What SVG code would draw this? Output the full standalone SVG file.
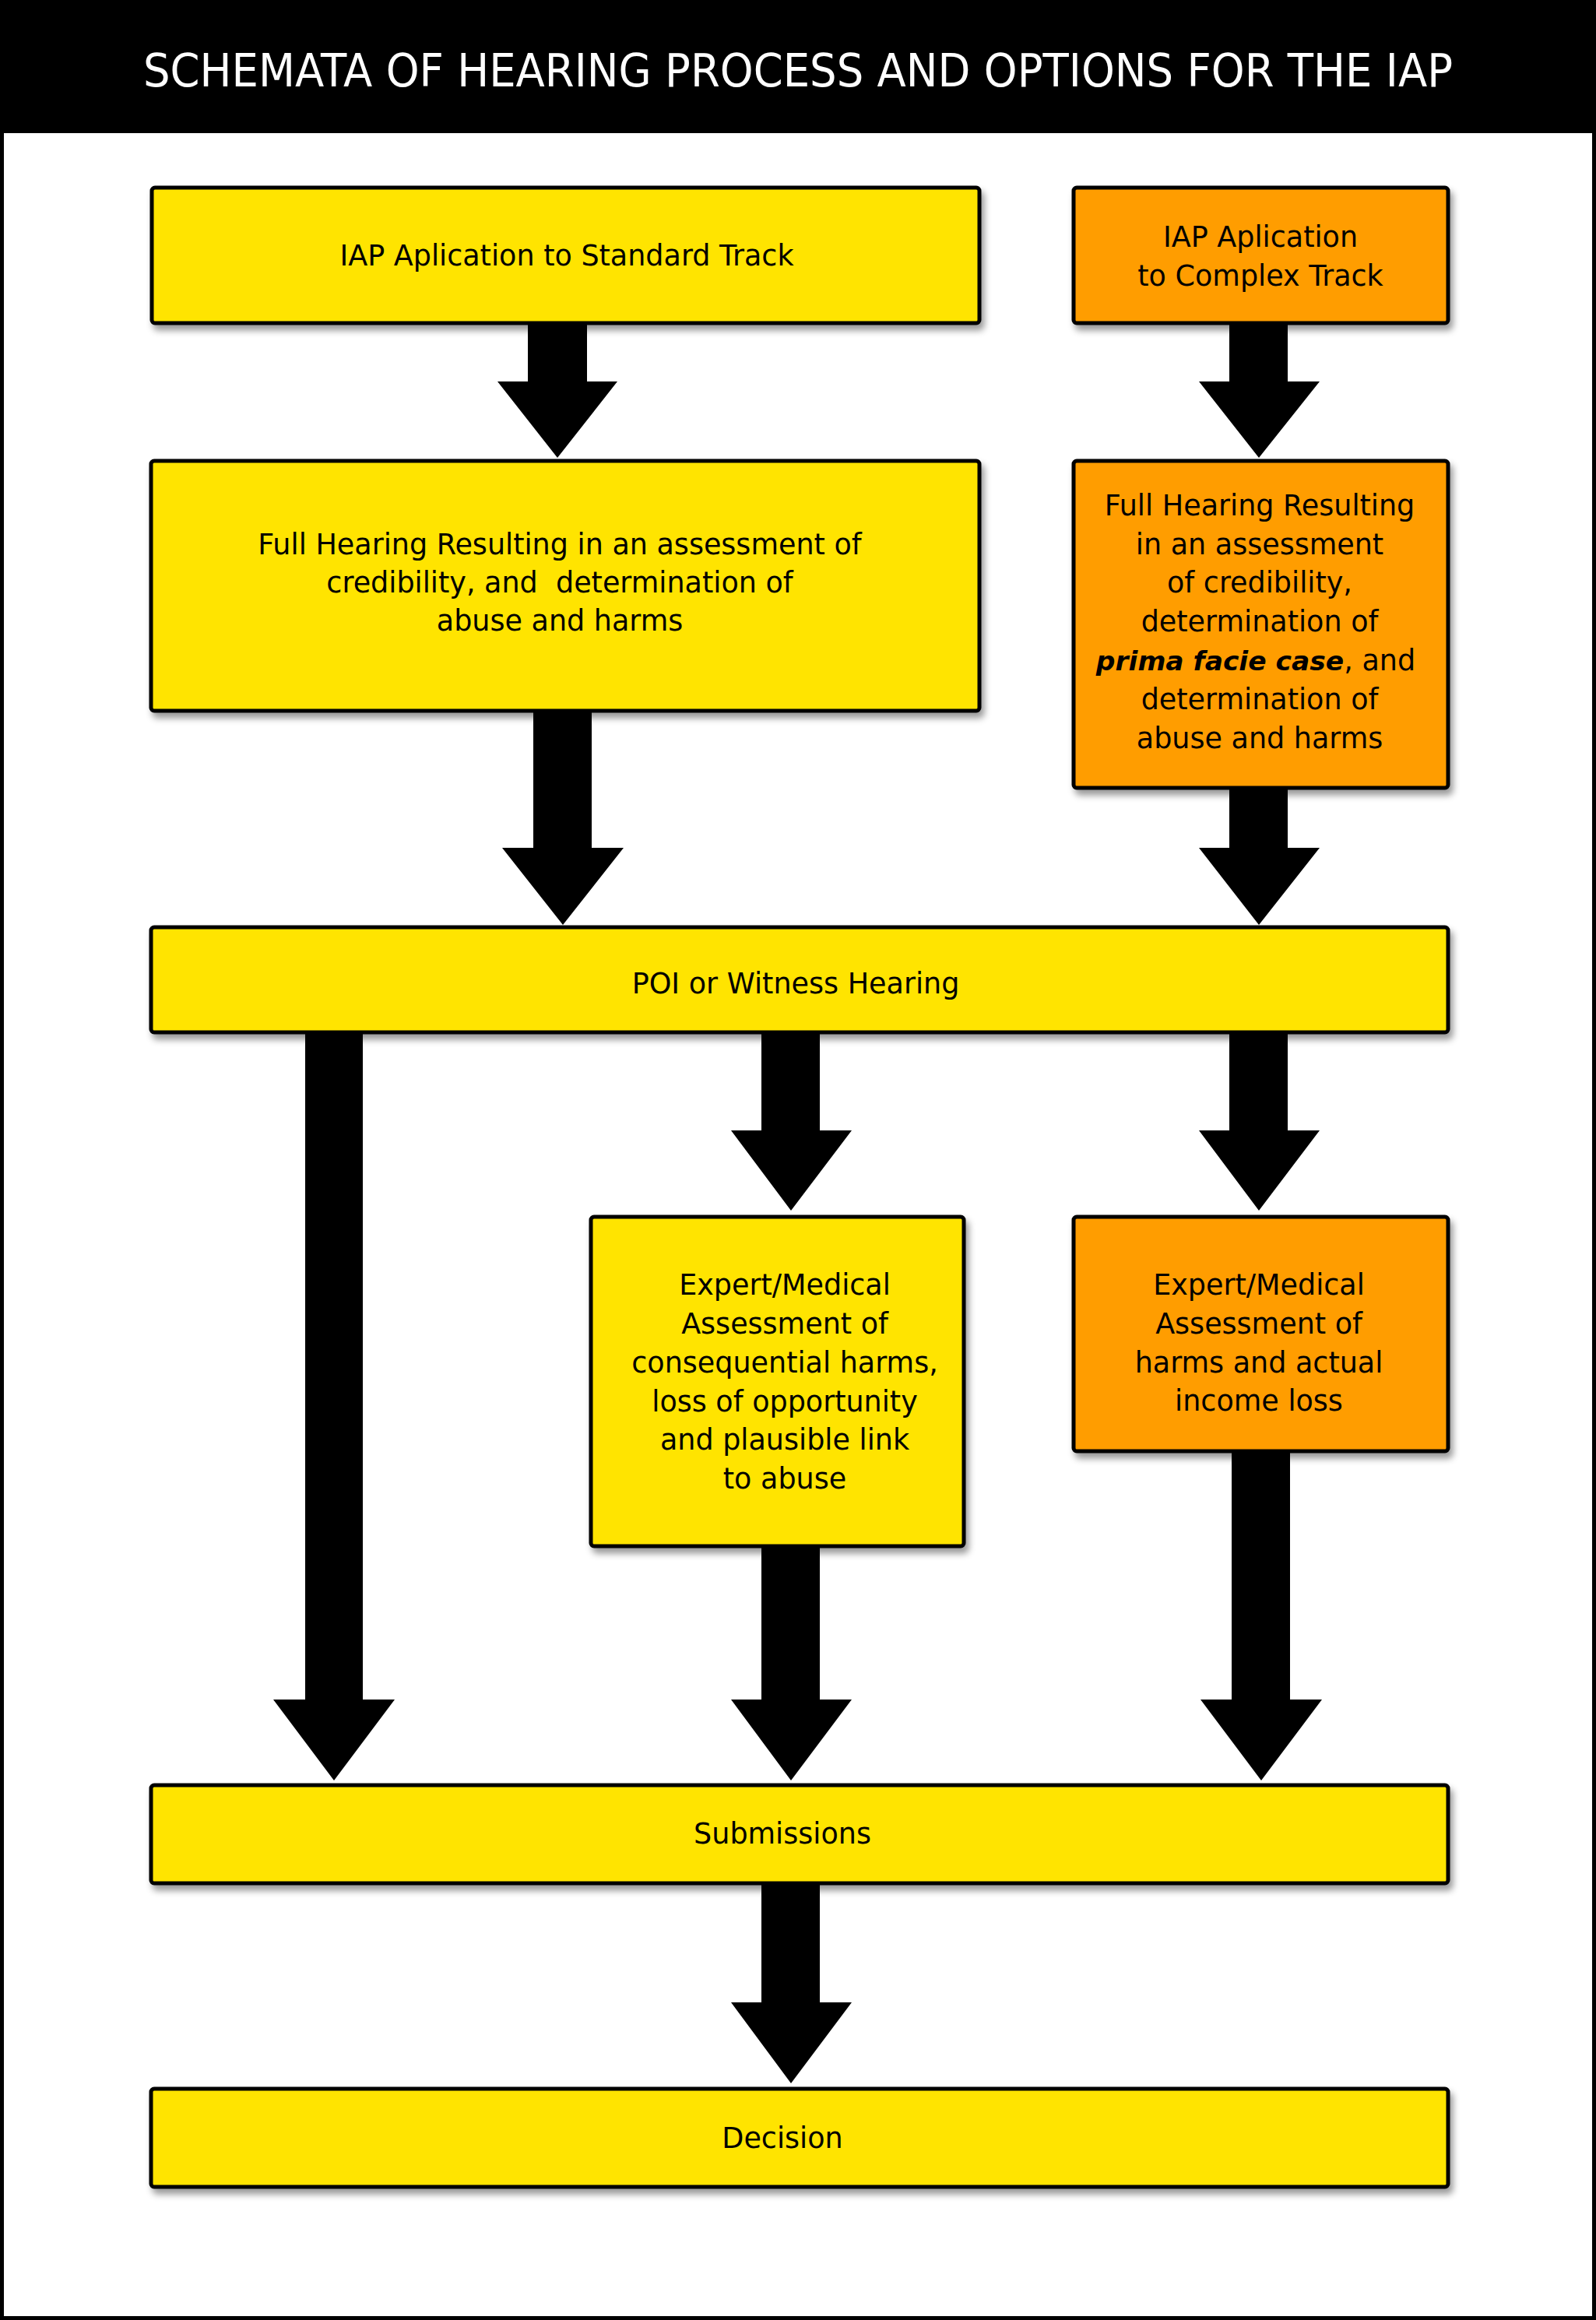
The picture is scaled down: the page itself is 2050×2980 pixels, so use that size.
<svg xmlns="http://www.w3.org/2000/svg" width="2050" height="2980" viewBox="0 0 2050 2980">
<defs>
<filter id="shadow" x="-5%" y="-5%" width="115%" height="125%">
<feDropShadow dx="4" dy="7" stdDeviation="4" flood-color="#000" flood-opacity="0.4"/>
</filter>
</defs>
<style>
.box{stroke:#000;stroke-width:5;filter:url(#shadow)}
.y{fill:#FFE400}
.o{fill:#FF9D00}
.t{font-family:"DejaVu Sans","Verdana","Liberation Sans",sans-serif;font-size:36.5px;fill:#000;text-anchor:middle}
.em{font-style:italic;font-weight:bold;font-size:34.5px}
.arrow{fill:#000}
.title{font-family:"DejaVu Sans","Verdana","Liberation Sans",sans-serif;font-size:59px;fill:#fff;text-anchor:middle}
</style>
<rect x="0" y="0" width="2050" height="2980" fill="#fff"/>
<rect x="0" y="0" width="2050" height="171" fill="#000"/>
<rect x="2.5" y="2.5" width="2045" height="2975" fill="none" stroke="#000" stroke-width="5"/>
<text class="title" x="1025" y="111" textLength="1682" lengthAdjust="spacingAndGlyphs">SCHEMATA OF HEARING PROCESS AND OPTIONS FOR THE IAP</text>

<g id="connectors">
<polygon class="arrow" points="678,410 754,410 754,490 793,490 716,588 639,490 678,490"/>
<polygon class="arrow" points="1579,410 1654,410 1654,490 1695,490 1617,588 1540,490 1579,490"/>
<polygon class="arrow" points="685,908 760,908 760,1089 801,1089 723,1188 645,1089 685,1089"/>
<polygon class="arrow" points="1579,1007 1654,1007 1654,1089 1695,1089 1617,1188 1540,1089 1579,1089"/>
<polygon class="arrow" points="392,1321 466,1321 466,2183 507,2183 429,2287 351,2183 392,2183"/>
<polygon class="arrow" points="978,1321 1053,1321 1053,1452 1094,1452 1016,1555 939,1452 978,1452"/>
<polygon class="arrow" points="1579,1321 1654,1321 1654,1452 1695,1452 1617,1555 1540,1452 1579,1452"/>
<polygon class="arrow" points="978,1981 1053,1981 1053,2183 1094,2183 1016,2287 939,2183 978,2183"/>
<polygon class="arrow" points="1582,1859 1657,1859 1657,2183 1698,2183 1620,2287 1542,2183 1582,2183"/>
<polygon class="arrow" points="978,2414 1053,2414 1053,2572 1094,2572 1016,2676 939,2572 978,2572"/>
</g>

<g id="std-application">
<rect class="box y" x="195" y="241" width="1063" height="174" rx="4"/>
<text class="t" x="728" y="341">IAP Aplication to Standard Track</text>
</g>
<g id="complex-application">
<rect class="box o" x="1379" y="241" width="481" height="174" rx="4"/>
<text class="t"><tspan x="1619" y="317">IAP Aplication</tspan><tspan x="1619" y="367">to Complex Track</tspan></text>
</g>
<g id="std-full-hearing">
<rect class="box y" x="194" y="592" width="1064" height="321" rx="4"/>
<text class="t" xml:space="preserve"><tspan x="719" y="712">Full Hearing Resulting in an assessment of</tspan><tspan x="719" y="761">credibility, and  determination of</tspan><tspan x="719" y="810">abuse and harms</tspan></text>
</g>
<g id="complex-full-hearing">
<rect class="box o" x="1379" y="592" width="481" height="420" rx="4"/>
<text class="t"><tspan x="1618" y="662">Full Hearing Resulting</tspan><tspan x="1618" y="712">in an assessment</tspan><tspan x="1618" y="761">of credibility,</tspan><tspan x="1618" y="811">determination of</tspan><tspan x="1613" y="861"><tspan class="em">prima facie case</tspan>, and</tspan><tspan x="1618" y="911">determination of</tspan><tspan x="1618" y="961">abuse and harms</tspan></text>
</g>
<g id="poi-hearing">
<rect class="box y" x="194" y="1191" width="1666" height="135" rx="4"/>
<text class="t" x="1022" y="1276">POI or Witness Hearing</text>
</g>
<g id="std-expert">
<rect class="box y" x="759" y="1563" width="479" height="423" rx="4"/>
<text class="t"><tspan x="1008" y="1663">Expert/Medical</tspan><tspan x="1008" y="1713">Assessment of</tspan><tspan x="1008" y="1763">consequential harms,</tspan><tspan x="1008" y="1813">loss of opportunity</tspan><tspan x="1008" y="1862">and plausible link</tspan><tspan x="1008" y="1912">to abuse</tspan></text>
</g>
<g id="complex-expert">
<rect class="box o" x="1379" y="1563" width="481" height="301" rx="4"/>
<text class="t"><tspan x="1617" y="1663">Expert/Medical</tspan><tspan x="1617" y="1713">Assessment of</tspan><tspan x="1617" y="1763">harms and actual</tspan><tspan x="1617" y="1812">income loss</tspan></text>
</g>
<g id="submissions">
<rect class="box y" x="194" y="2293" width="1666" height="126" rx="4"/>
<text class="t" x="1005" y="2368">Submissions</text>
</g>
<g id="decision">
<rect class="box y" x="194" y="2683" width="1666" height="126" rx="4"/>
<text class="t" x="1005" y="2759">Decision</text>
</g>
</svg>
